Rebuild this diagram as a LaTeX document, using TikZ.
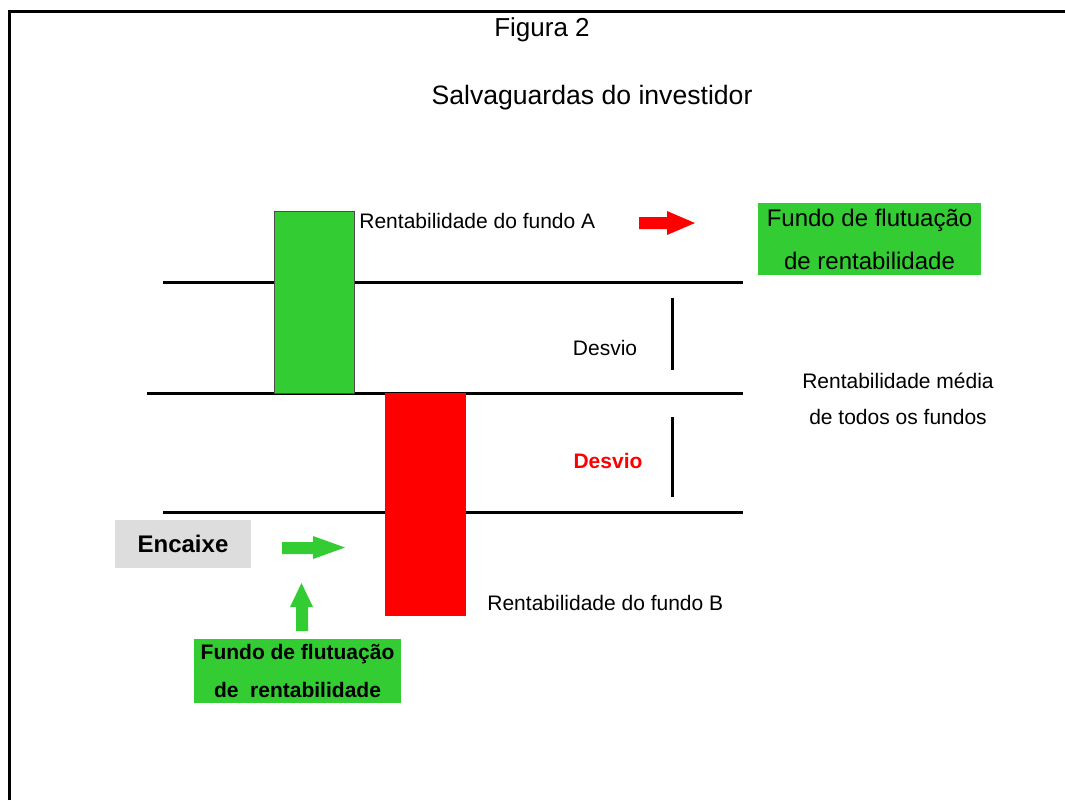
\documentclass[tikz,border=0pt]{standalone}
\usepackage{fontspec}
\setmainfont{Liberation Sans}
\definecolor{fundgreen}{RGB}{51, 204, 51}
\definecolor{fundred}{RGB}{255, 0, 0}
\definecolor{encgray}{RGB}{221, 221, 221}
\usetikzlibrary{positioning, calc}

\begin{document}
\begin{tikzpicture}[
        x=0.5pt, y=-0.5pt,
        txt/.style={inner sep=0pt, font=\fontsize{10.5}{18}\selectfont, align=center},
        bar/.style={draw=gray!60!black, line width=0.5pt, minimum width=40pt,
                    inner sep=0pt},
        level/.style={line width=1.5pt},
        box/.style={inner sep=0pt, align=center}
      ]
        \useasboundingbox (0,0) rectangle (1065,800);
        % frame, only top and left show
        \draw[line width=1.5pt] (9,800) -- (9,11) -- (1065,11);

        \node[txt, font=\fontsize{13}{16}\selectfont] (fig) at (542,30) {Figura 2};
        \node[txt, font=\fontsize{13.3}{16}\selectfont] (title) at (592,98)
              {Salvaguardas do investidor};

        % average and deviation levels
        \draw[level] (163,282) -- (743,282);
        \draw[level] (147,393) -- (743,393);
        \draw[level] (163,512) -- (743,512);

        \node[bar, fill=fundgreen, minimum height=91pt] (barA) at (314,302) {};
        \node[bar, fill=fundred, minimum height=111pt] (barB) at (425,504) {};

        \node[txt, anchor=west] (rentA) at (359,221) {Rentabilidade do fundo A};
        \node[txt, anchor=west] (rentB) at (487,603) {Rentabilidade do fundo B};

        \node[txt] (desvio) at (605,348) {Desvio};
        \draw[level] (672,298) -- (672,370);
        \node[txt, font=\fontsize{10.5}{18}\selectfont\bfseries, text=fundred]
              (desvioB) at (608,461) {Desvio};
        \draw[level] (672,417) -- (672,497);

        \node[txt] (media) at (898,399) {Rentabilidade média\\de todos os fundos};

        % fund boxes
        \node[box, fill=fundgreen, minimum width=111.5pt, minimum height=36pt,
              font=\fontsize{12}{21.5}\selectfont] (fundA) at (869.5,239)
              {Fundo de flutuação\\de rentabilidade};
        \node[box, fill=encgray, minimum width=68pt, minimum height=24pt,
              font=\fontsize{12}{14}\selectfont\bfseries] (enc) at (183,544) {Encaixe};
        \node[box, fill=fundgreen, minimum width=103.5pt, minimum height=32pt,
              font=\fontsize{10.5}{19}\selectfont\bfseries] (fundB) at (297.5,671)
              {Fundo de flutuação\\de\ \ rentabilidade};

        % block arrows
        \fill[fundred] (639,217) -- (667,217) -- (667,211) -- (695,223)
          -- (667,235) -- (667,229) -- (639,229) -- cycle;
        \fill[fundgreen] (282,542) -- (313,542) -- (313,536) -- (345,547.5)
          -- (313,559) -- (313,554) -- (282,554) -- cycle;
        \fill[fundgreen] (296,631) -- (296,607) -- (290,607) -- (301.5,583)
          -- (313,607) -- (308,607) -- (308,631) -- cycle;
      \end{tikzpicture}
\end{document}
